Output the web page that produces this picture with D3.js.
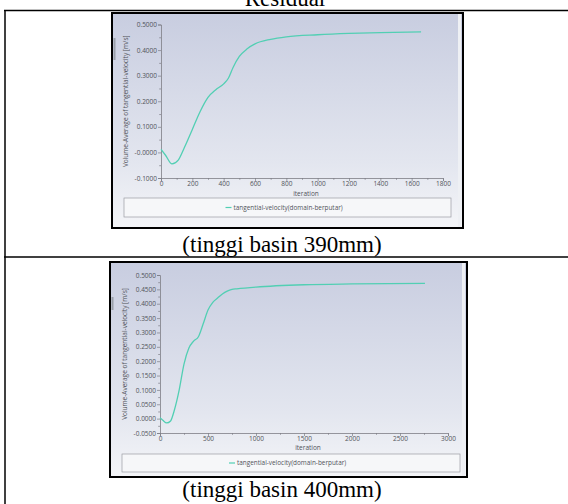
<!DOCTYPE html>
<html><head><meta charset="utf-8">
<script src="https://cdn.jsdelivr.net/npm/d3@7/dist/d3.min.js"></script>
<style>
html,body{margin:0;padding:0;background:#fff;}
svg{display:block;}
</style></head>
<body>
<svg id="c" width="568" height="504"></svg>
<script>
// ---------- DATA ----------
const titleText = "Residual";
const captions = ["(tinggi basin 390mm)", "(tinggi basin 400mm)"];
const seriesName = "tangential-velocity(domain-berputar)";
const yTitle = "Volume-Average of tangential-velocity [m/s]";
const xTitle = "iteration";

// chart 1 (390mm)
const iter1 = [0, 30, 70, 110, 150, 200, 250, 300, 350, 400, 430, 460, 500, 550, 600, 700, 800, 1000, 1200, 1400, 1660];
const vel1  = [0.012, -0.012, -0.045, -0.03, 0.02, 0.09, 0.16, 0.215, 0.245, 0.268, 0.29, 0.332, 0.375, 0.405, 0.424, 0.442, 0.452, 0.46, 0.465, 0.468, 0.471];
const xTicks1 = [0, 200, 400, 600, 800, 1000, 1200, 1400, 1600, 1800];
const yTicks1 = [-0.1, 0, 0.1, 0.2, 0.3, 0.4, 0.5];
const yTickLabels1 = ["-0.1000", "-0.0000", "0.1000", "0.2000", "0.3000", "0.4000", "0.5000"];

// chart 2 (400mm)
const iter2 = [0, 30, 70, 110, 150, 200, 250, 300, 350, 400, 450, 500, 550, 600, 650, 700, 750, 800, 1000, 1500, 2000, 2760];
const vel2  = [0.003, -0.006, -0.015, -0.008, 0.03, 0.1, 0.19, 0.245, 0.27, 0.285, 0.33, 0.378, 0.405, 0.42, 0.434, 0.444, 0.45, 0.452, 0.458, 0.466, 0.469, 0.471];
const xTicks2 = [0, 500, 1000, 1500, 2000, 2500, 3000];
const yTicks2 = [-0.05, 0, 0.05, 0.1, 0.15, 0.2, 0.25, 0.3, 0.35, 0.4, 0.45, 0.5];
const yTickLabels2 = ["-0.0500", "0.0000", "0.0500", "0.1000", "0.1500", "0.2000", "0.2500", "0.3000", "0.3500", "0.4000", "0.4500", "0.5000"];

// ---------- DRAW ----------
const svg = d3.select("#c");
const defs = svg.append("defs");
const grad = defs.append("linearGradient").attr("id", "bg").attr("x1", 0).attr("y1", 0).attr("x2", 0).attr("y2", 1);
grad.append("stop").attr("offset", "0%").attr("stop-color", "#c8cde0");
grad.append("stop").attr("offset", "70%").attr("stop-color", "#e3e6ef");
grad.append("stop").attr("offset", "100%").attr("stop-color", "#f4f5f8");

const serif = "'Liberation Serif','Times New Roman',serif";
const sans = "'Open Sans','Noto Sans',sans-serif";
const lineColor = "#52cfb3";

// table
svg.append("text").attr("x", 285).attr("y", 6).attr("text-anchor", "middle")
  .attr("font-family", serif).attr("font-size", 23).text(titleText);
svg.append("line").attr("x1", 4).attr("x2", 568).attr("y1", 10.5).attr("y2", 10.5).attr("stroke", "#000").attr("stroke-width", 1.5);
svg.append("line").attr("x1", 4).attr("x2", 568).attr("y1", 257).attr("y2", 257).attr("stroke", "#000").attr("stroke-width", 1.5);
svg.append("line").attr("x1", 5).attr("x2", 5).attr("y1", 10).attr("y2", 504).attr("stroke", "#000").attr("stroke-width", 1.5);

function drawChart(cfg) {
  const g = svg.append("g");
  const f = cfg.frame;
  g.append("rect").attr("x", f.x).attr("y", f.y).attr("width", f.w).attr("height", f.h)
    .attr("fill", "url(#bg)");
  g.append("rect").attr("x", f.x + f.w - 5).attr("y", f.y).attr("width", 3).attr("height", f.h).attr("fill", "#eef0f4");
  g.append("rect").attr("x", f.x + 1.5).attr("y", cfg.side[0]).attr("width", 2).attr("height", cfg.side[1]).attr("fill", "#9aa0aa");

  const x = d3.scaleLinear().domain(cfg.xDomain).range(cfg.xRange);
  const y = d3.scaleLinear().domain(cfg.yDomain).range(cfg.yRange);

  const xMinor = [];
  for (let i = 0; i < cfg.xTicks.length - 1; i++) xMinor.push((cfg.xTicks[i] + cfg.xTicks[i + 1]) / 2);
  const yMinor = [];
  for (let i = 0; i < cfg.yTicks.length - 1; i++) yMinor.push((cfg.yTicks[i] + cfg.yTicks[i + 1]) / 2);

  const axCol = "#7d7d85";
  const xAxis = g.append("g").attr("transform", `translate(0,${cfg.yRange[0]})`)
    .call(d3.axisBottom(x).tickValues(cfg.xTicks).tickSize(3).tickFormat(d3.format("d")));
  g.append("g").attr("transform", `translate(0,${cfg.yRange[0]})`)
    .call(d3.axisBottom(x).tickValues(xMinor).tickSize(1.8).tickFormat(""))
    .call(s => s.select(".domain").remove());
  const yAxis = g.append("g").attr("transform", `translate(${cfg.xRange[0]},0)`)
    .call(d3.axisLeft(y).tickValues(cfg.yTicks).tickSize(3).tickFormat((d, i) => cfg.yLabels[i]));
  g.append("g").attr("transform", `translate(${cfg.xRange[0]},0)`)
    .call(d3.axisLeft(y).tickValues(yMinor).tickSize(1.8).tickFormat(""))
    .call(s => s.select(".domain").remove());
  g.selectAll(".domain").attr("stroke", axCol).attr("stroke-width", 0.8);
  g.selectAll(".tick line").attr("stroke", axCol).attr("stroke-width", 0.7);
  g.selectAll(".tick text").attr("fill", "#505359").attr("font-family", sans).attr("font-size", 6.5);
  xAxis.selectAll(".tick text").attr("dy", "0.6em").attr("y", 4);
  yAxis.selectAll(".tick text").attr("x", -4);

  g.append("text").attr("x", (cfg.xRange[0] + cfg.xRange[1]) / 2 + 4).attr("y", cfg.xTitleY)
    .attr("text-anchor", "middle").attr("font-family", sans).attr("font-size", 6.5).attr("fill", "#505359").text(xTitle);
  g.append("text").attr("transform", `translate(${cfg.yTitleX},${(cfg.yRange[0] + cfg.yRange[1]) / 2}) rotate(-90)`)
    .attr("text-anchor", "middle").attr("font-family", sans).attr("font-size", 6.5).attr("fill", "#505359").text(yTitle);

  const line = d3.line().x(d => x(d[0])).y(d => y(d[1])).curve(d3.curveMonotoneX);
  g.append("path").datum(d3.zip(cfg.iters, cfg.vals)).attr("d", line)
    .attr("fill", "none").attr("stroke", lineColor).attr("stroke-width", 1.3);

  const L = cfg.legend;
  g.append("rect").attr("x", L.x).attr("y", L.y).attr("width", L.w).attr("height", L.h)
    .attr("fill", "#f6f7f9").attr("stroke", "#9a9ca3").attr("stroke-width", 0.7);
  const lx = L.x + L.w / 2 - 62;
  const ly = L.y + L.h / 2;
  g.append("line").attr("x1", lx).attr("x2", lx + 6).attr("y1", ly).attr("y2", ly).attr("stroke", lineColor).attr("stroke-width", 1.2);
  g.append("text").attr("x", lx + 8).attr("y", ly).attr("dy", "0.35em").attr("font-family", sans).attr("font-size", 6.4)
    .attr("fill", "#505359").text(seriesName);

  g.append("rect").attr("x", f.x).attr("y", f.y).attr("width", f.w).attr("height", f.h)
    .attr("fill", "none").attr("stroke", "#000").attr("stroke-width", 2);

  svg.append("text").attr("x", cfg.capX).attr("y", cfg.capY).attr("text-anchor", "middle")
    .attr("font-family", serif).attr("font-size", 23).text(cfg.caption);
}

drawChart({
  frame: {x: 112, y: 13, w: 351, h: 215},
  side: [38, 22],
  xDomain: [0, 1800], xRange: [161, 443],
  yDomain: [-0.1, 0.5], yRange: [178, 24.5],
  xTicks: xTicks1, yTicks: yTicks1, yLabels: yTickLabels1,
  iters: iter1, vals: vel1,
  xTitleY: 196, yTitleX: 128,
  legend: {x: 124, y: 198, w: 327, h: 19},
  caption: captions[0], capX: 282, capY: 252
});

drawChart({
  frame: {x: 110, y: 262, w: 357, h: 215},
  side: [297, 13],
  xDomain: [0, 3000], xRange: [160, 448],
  yDomain: [-0.05, 0.5], yRange: [433, 275],
  xTicks: xTicks2, yTicks: yTicks2, yLabels: yTickLabels2,
  iters: iter2, vals: vel2,
  xTitleY: 450, yTitleX: 127,
  legend: {x: 122, y: 454, w: 338, h: 18},
  caption: captions[1], capX: 282, capY: 497
});
</script>
</body></html>
